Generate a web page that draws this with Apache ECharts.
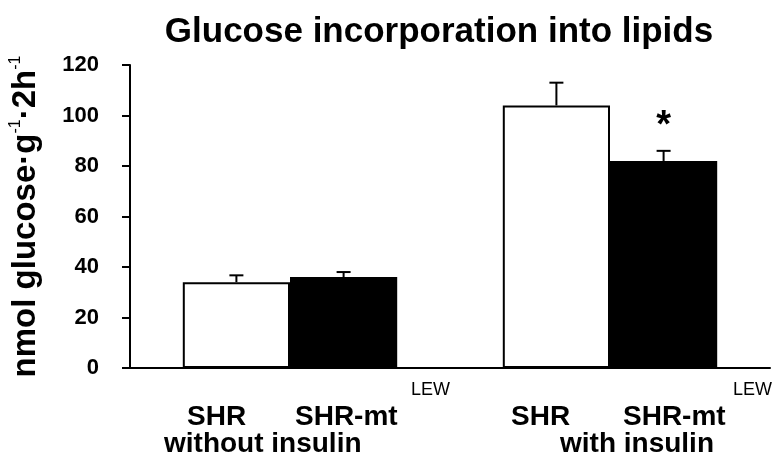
<!DOCTYPE html>
<html><head><meta charset="utf-8">
<script src="https://cdn.jsdelivr.net/npm/echarts@6/dist/echarts.min.js"></script>
<style>html,body{margin:0;padding:0;background:#fff}#c{width:776px;height:460px}</style>
</head><body><div id="c"></div>
<script>
// ---- data ----
const groups = ['without insulin', 'with insulin'];
const seriesNames = ['SHR', 'SHR-mt'];
const seriesSup = 'LEW';
const shrValues = [34, 104];
const shrErrors = [2.7, 9];
const mtValues = [36, 82];
const mtErrors = [2, 4];
const shrSignificance = ['', ''];
const mtSignificance = ['', '*'];
const yTicks = [0, 20, 40, 60, 80, 100, 120];
const titleText = 'Glucose incorporation into lipids';

const FONT = '"Liberation Sans", Arial, sans-serif';
const GAP = 0.33;

function errorRenderer(side, sig) {
  return function (params, api) {
    const x = api.value(0), v = api.value(1), e = api.value(2);
    const band = api.size([1, 0])[0];
    const off = side * band * (1 - GAP) / 4;
    const base = api.coord([x, v]);
    const top = api.coord([x, v + e]);
    const cx = base[0] + off;
    const children = [
      { type: 'line', shape: { x1: cx, y1: base[1], x2: cx, y2: top[1] }, style: { stroke: '#000', lineWidth: 2 } },
      { type: 'line', shape: { x1: cx - 7, y1: top[1], x2: cx + 7, y2: top[1] }, style: { stroke: '#000', lineWidth: 2 } }
    ];
    const s = sig[params.dataIndex];
    if (s) {
      children.push({ type: 'text', style: { text: s, x: cx, y: top[1] - 24, align: 'center', verticalAlign: 'middle', font: 'bold 38px ' + FONT, fill: '#000' } });
    }
    return { type: 'group', children };
  };
}

const chart = echarts.init(document.getElementById('c'), null, { renderer: 'canvas' });

function lbl(text, x, y, size, bold) {
  return { type: 'text', x: x, y: y, style: { text, align: 'left', verticalAlign: 'middle', font: (bold ? 'bold ' : '') + size + 'px ' + FONT, fill: '#000' } };
}

const row1Y = 417, supY = 390, row2Y = 444;
const graphics = [
  lbl(seriesNames[0], 187, row1Y, 28, true),
  lbl(seriesNames[1], 295, row1Y, 28, true),
  lbl(seriesSup, 411, supY, 18, false),
  lbl(seriesNames[0], 511, row1Y, 28, true),
  lbl(seriesNames[1], 623, row1Y, 28, true),
  lbl(seriesSup, 733, supY, 18, false),
  lbl(groups[0], 164, row2Y, 28, true),
  lbl(groups[1], 560, row2Y, 28, true)
];

chart.setOption({
  animation: false,
  backgroundColor: '#fff',
  title: {
    text: titleText, left: 434, top: 10, textAlign: 'center',
    textStyle: { fontFamily: FONT, fontWeight: 'bold', fontSize: 35, color: '#000' }
  },
  grid: { left: 123, right: 6, top: 65, bottom: 92 },
  xAxis: {
    type: 'category', data: groups,
    axisLine: { lineStyle: { color: '#000', width: 2 } },
    axisTick: { show: false }, axisLabel: { show: false }
  },
  yAxis: {
    type: 'value', min: yTicks[0], max: yTicks[yTicks.length - 1], interval: yTicks[1] - yTicks[0],
    axisLine: { show: true, lineStyle: { color: '#000', width: 2 } },
    axisTick: { show: true, length: 8, lineStyle: { color: '#000', width: 2 } },
    splitLine: { show: false },
    axisLabel: { color: '#000', fontFamily: FONT, fontWeight: 'bold', fontSize: 22, margin: 31 },
    name: '{a|nmol glucose·g}{s|-1}{a|·2h}{s|-1}',
    nameLocation: 'middle', nameGap: 87,
    nameTextStyle: {
      rich: {
        a: { fontFamily: FONT, fontWeight: 'bold', fontSize: 33, color: '#000', lineHeight: 35 },
        s: { fontFamily: FONT, fontSize: 16, color: '#000', verticalAlign: 'top', lineHeight: 35 }
      }
    }
  },
  graphic: graphics,
  series: [
    { name: seriesNames[0], type: 'bar', data: shrValues, barGap: '0%', barCategoryGap: (GAP * 100) + '%',
      itemStyle: { color: '#fff', borderColor: '#000', borderWidth: 2 } },
    { name: seriesNames[1], type: 'bar', data: mtValues, barGap: '0%', barCategoryGap: (GAP * 100) + '%',
      itemStyle: { color: '#000', borderColor: '#000', borderWidth: 2 } },
    { type: 'custom', renderItem: errorRenderer(-1, shrSignificance), z: 5,
      data: groups.map((g, i) => [i, shrValues[i], shrErrors[i]]) },
    { type: 'custom', renderItem: errorRenderer(1, mtSignificance), z: 5,
      data: groups.map((g, i) => [i, mtValues[i], mtErrors[i]]) }
  ]
});
</script>
</body></html>
